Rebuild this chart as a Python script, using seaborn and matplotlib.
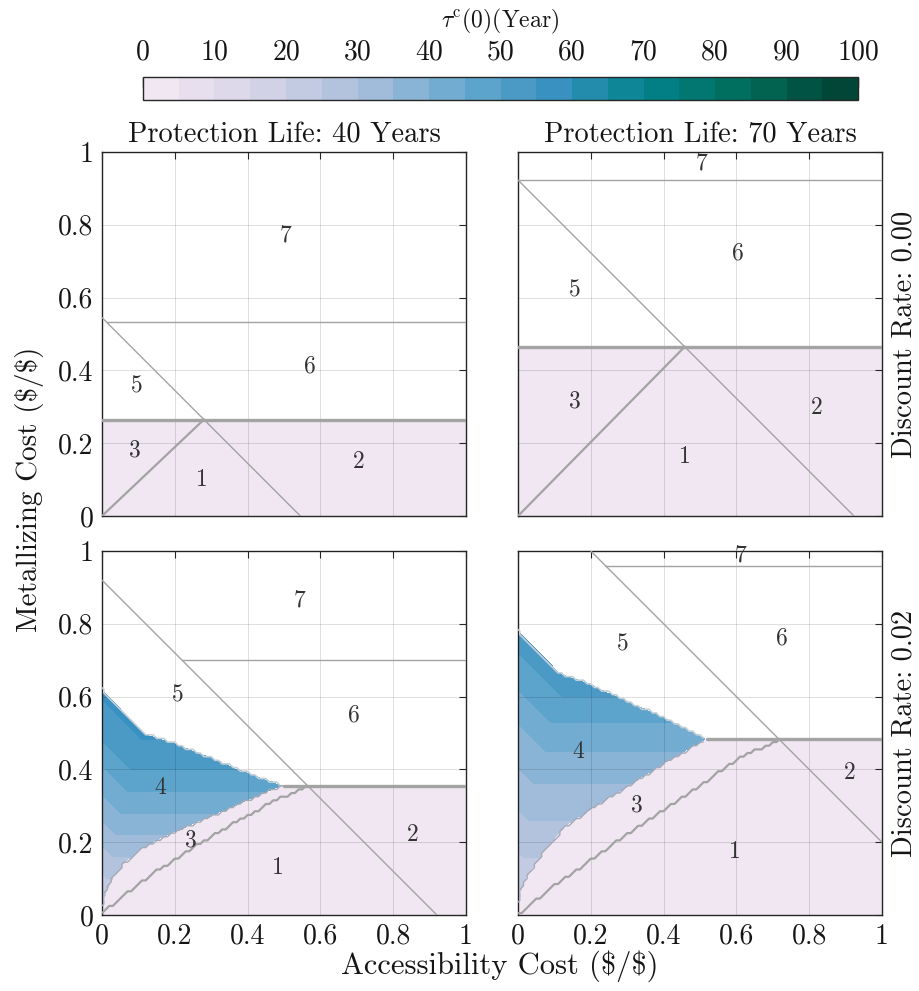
import numpy as np
import matplotlib
matplotlib.use("Agg")
import matplotlib.pyplot as plt
from matplotlib.colors import ListedColormap, BoundaryNorm
from matplotlib.cm import ScalarMappable
import seaborn as sns

sns.set_style("white")
plt.rcParams["font.family"] = ["cmr10", "DejaVu Serif"]
plt.rcParams["mathtext.fontset"] = "cm"
plt.rcParams["axes.formatter.use_mathtext"] = True
plt.rcParams["axes.unicode_minus"] = False

# ---------------- data ----------------
tau_levels = np.arange(0, 105, 5)            # contour levels of tau^c(0), years
cbar_ticks = [0, 10, 20, 30, 40, 50, 60, 70, 80, 90, 100]
axis_ticks = [0, 0.2, 0.4, 0.6, 0.8, 1]
axis_tick_labels = ["0", "0.2", "0.4", "0.6", "0.8", "1"]

life_titles = ["Protection Life: 40 Years", "Protection Life: 70 Years"]
rate_labels = ["Discount Rate: 0.00", "Discount Rate: 0.02"]

# panels in order: 40y/0.00, 70y/0.00, 40y/0.02, 70y/0.02
pink_value = 2.5                                  # tau^c(0) in regions 1-3
pink_top = [0.265, 0.465, 0.355, 0.4835]          # top of regions 1/2
diag_intercept = [0.545, 0.923, 0.92, 1.2]        # boundary y = c - x
upper_h = [0.532, 0.923, 0.70, 0.96]              # 6/7 boundary

# region 4 (only with discounting): outer boundaries
r4_upper_x = [[0, 0.113, 0.2, 0.3, 0.4, 0.5],
              [0, 0.115, 0.2, 0.3, 0.4, 0.518]]
r4_upper_y = [[0.62, 0.50, 0.472, 0.432, 0.39, 0.355],
              [0.78, 0.664, 0.633, 0.588, 0.543, 0.4835]]
r4_lower_x = [[0, 0.01, 0.03, 0.06, 0.1, 0.15, 0.2, 0.3, 0.4, 0.45, 0.5],
              [0, 0.005, 0.02, 0.047, 0.083, 0.13, 0.2, 0.3, 0.4, 0.518]]
r4_lower_y = [[0.02, 0.06, 0.10, 0.14, 0.177, 0.205, 0.228, 0.27, 0.315, 0.337, 0.355],
              [0.03, 0.06, 0.097, 0.141, 0.188, 0.243, 0.29, 0.352, 0.415, 0.4835]]
# region 4 contour edges: flat height, kink position, level value
r4_edge_flat = [[0.10, 0.16, 0.22, 0.28, 0.34, 0.40, 0.48],
                [0.16, 0.26, 0.36, 0.45, 0.53, 0.60]]
r4_edge_kink = [[0.015, 0.03, 0.04, 0.05, 0.07, 0.08, 0.11],
                [0.015, 0.03, 0.045, 0.075, 0.09, 0.12]]
r4_edge_value = [[25, 30, 35, 40, 45, 50, 55],
                 [25, 30, 35, 40, 45, 50]]

# boundary between regions 3 and 1
b31_x = [[0, 0.02, 0.05, 0.1, 0.15, 0.2, 0.25, 0.3, 0.35, 0.4, 0.45, 0.5, 0.567],
         [0, 0.05, 0.1, 0.2, 0.3, 0.4, 0.5, 0.6, 0.66, 0.72]]
b31_y = [[0, 0.02, 0.045, 0.085, 0.12, 0.152, 0.185, 0.215, 0.245, 0.272, 0.3, 0.325, 0.355],
         [0, 0.04, 0.08, 0.151, 0.222, 0.288, 0.355, 0.425, 0.455, 0.4835]]

# region number labels
region_ids = ["1", "2", "3", "4", "5", "6", "7"]
label_x = [[0.274, 0.704, 0.091, None, 0.095, 0.571, 0.503],
           [0.459, 0.82, 0.157, None, 0.157, 0.605, 0.505],
           [0.484, 0.855, 0.245, 0.159, 0.208, 0.692, 0.542],
           [0.596, 0.912, 0.326, 0.166, 0.289, 0.724, 0.61]]
label_y = [[0.099, 0.149, 0.18, None, 0.357, 0.41, 0.772],
           [0.163, 0.296, 0.314, None, 0.621, 0.722, 0.969],
           [0.128, 0.22, 0.206, 0.348, 0.604, 0.548, 0.865],
           [0.174, 0.389, 0.30, 0.449, 0.742, 0.76, 0.989]]

# ---------------- styling ----------------
base = sns.color_palette("PuBuGn", as_cmap=True)
cmap = ListedColormap(base(np.linspace(0.1, 1.0, len(tau_levels) - 1)))
norm = BoundaryNorm(tau_levels, cmap.N)
line_col = "#a3a3a3"
spine_col = "#262626"
txt_col = "#151515"

W, H = 920, 991
fig = plt.figure(figsize=(W / 100, H / 100), dpi=100)

ax_w, ax_h = 364 / W, 364 / H
lefts = [102 / W, 518 / W]
bottoms = [1 - 516 / H, 1 - 915 / H]

# fine grid for the filled levels, coarse grid for the solver-style boundaries
N = 241
g = np.linspace(0, 1, N)
X, Y = np.meshgrid(g, g)
Nc = 101
gc = np.linspace(0, 1, Nc)
Xc, Yc = np.meshgrid(gc, gc)


def mask_line(ax, xs, ys, color, lw, xmax, z=3):
    """Boundary drawn as the 0.5 contour of an indicator on the coarse grid."""
    yb = np.interp(gc, xs, ys)
    ind = (Yc <= yb[None, :]).astype(float)
    ind[:, gc > xmax + 1e-9] = np.nan
    ax.contour(Xc, Yc, ind, levels=[0.5], colors=[color], linewidths=lw, zorder=z)


for p in range(4):
    row, col = divmod(p, 2)
    ax = fig.add_axes([lefts[col], bottoms[row], ax_w, ax_h])
    h = pink_top[p]
    c = diag_intercept[p]

    if row == 0:
        zpink = np.where(Y <= h, pink_value, np.nan)
        ax.contourf(X, Y, zpink, levels=tau_levels, cmap=cmap, norm=norm, zorder=1)
    else:
        k = col
        lower = np.interp(g, r4_lower_x[k], r4_lower_y[k])
        upper = np.interp(g, r4_upper_x[k], r4_upper_y[k])
        zpink = np.where(Y <= lower[None, :], pink_value, np.nan)
        ax.contourf(X, Y, zpink, levels=tau_levels, cmap=cmap, norm=norm, zorder=1)

        flat = np.asarray(r4_edge_flat[k])
        kink = np.asarray(r4_edge_kink[k])
        vals = np.asarray(r4_edge_value[k], dtype=float)
        field = np.empty_like(X)
        for j, xv in enumerate(g):
            ey = flat + np.maximum(0.0, kink - xv)
            field[:, j] = np.interp(g, np.r_[-1.0, ey, 2.0],
                                    np.r_[vals[0] - 4, vals, vals[-1] + 4])
        inside = (Y >= lower[None, :]) & (Y <= upper[None, :])
        z4 = np.where(inside, field, np.nan)
        ax.contourf(X, Y, z4, levels=tau_levels, cmap=cmap, norm=norm, zorder=1)

        tip = r4_upper_x[k][-1]
        mask_line(ax, r4_upper_x[k], r4_upper_y[k], "#c3ced6", 1.2, tip)
        mask_line(ax, r4_lower_x[k], r4_lower_y[k], "#a6a9b6", 1.0, tip)

    # region boundary lines
    x0, x1 = max(0.0, c - 1), min(1.0, c)
    ax.plot([x0, x1], [c - x0, c - x1], color=line_col, lw=1.0, zorder=3)
    u = upper_h[p]
    ax.plot([max(0.0, c - u), 1], [u, u], color=line_col, lw=1.0, zorder=3)
    if row == 0:
        ax.plot([0, c - h], [0, h], color=line_col, lw=1.6, zorder=3)
        ax.plot([0, 1], [h, h], color=line_col, lw=2.4, zorder=4)
    else:
        mask_line(ax, b31_x[col], b31_y[col], line_col, 1.6, b31_x[col][-1])
        ax.plot([r4_upper_x[col][-1], 1], [h, h], color=line_col, lw=2.4, zorder=4)

    for i, rid in enumerate(region_ids):
        if label_x[p][i] is None:
            continue
        ax.text(label_x[p][i], label_y[p][i], rid, ha="center", va="center",
                fontsize=17, color="#333333", zorder=5)

    ax.set_xlim(0, 1)
    ax.set_ylim(0, 1)
    ax.set_xticks(axis_ticks)
    ax.set_yticks(axis_ticks)
    ax.set_xticklabels(axis_tick_labels if row == 1 else [])
    ax.set_yticklabels(axis_tick_labels if col == 0 else [])
    ax.tick_params(direction="in", length=5, width=0.8, color=spine_col,
                   top=True, right=True, labelsize=20, pad=6, labelcolor=txt_col)
    ax.set_axisbelow(False)
    ax.grid(True, color="black", alpha=0.13, lw=0.7)
    for s in ax.spines.values():
        s.set_color(spine_col)
        s.set_linewidth(1.0)
    if row == 0:
        ax.set_title(life_titles[col], fontsize=20.5, pad=7, color=txt_col)

# colour bar
cax = fig.add_axes([143 / W, 1 - 100 / H, 715 / W, 23 / H])
cb = fig.colorbar(ScalarMappable(norm=norm, cmap=cmap), cax=cax,
                  orientation="horizontal", ticks=cbar_ticks)
cax.xaxis.set_ticks_position("top")
cax.xaxis.set_label_position("top")
cax.set_xticklabels([str(t) for t in cbar_ticks])
cax.tick_params(direction="in", length=7, width=1.0, color=spine_col,
                labelsize=20, pad=8, labelcolor=txt_col)
cax.minorticks_off()
cb.outline.set_edgecolor(spine_col)
cb.outline.set_linewidth(1.0)
cax.set_title(r"$\tau^{\mathrm{c}}(0)$(Year)", fontsize=17, pad=9, color=txt_col)

# shared labels
fig.text(30 / W, 1 - 489 / H, r"Metallizing Cost (\$/\$)", rotation=90,
         ha="center", va="center", fontsize=21, color=txt_col)
fig.text(500 / W, 1 - 966 / H, r"Accessibility Cost (\$/\$)",
         ha="center", va="center", fontsize=22, color=txt_col)
for r, lab in enumerate(rate_labels):
    yc = 1 - (334 if r == 0 else 733) / H
    fig.text(904 / W, yc, lab, rotation=90, ha="center", va="center",
             fontsize=20.5, color=txt_col)

fig.savefig("out.png", dpi=100)
